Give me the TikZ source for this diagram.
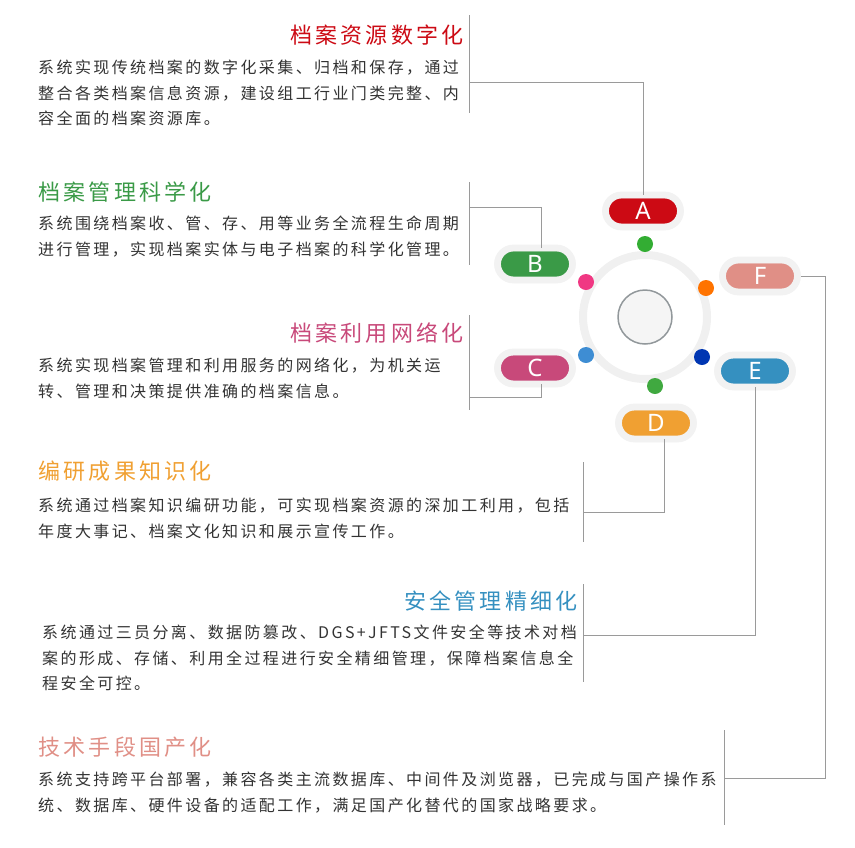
\documentclass[tikz,border=0pt]{standalone}
\usepackage{fontspec}
\usepackage{tikz}
\usetikzlibrary{positioning}
\newfontfamily\cjk[LetterSpace=15]{Noto Sans CJK SC}
\newfontfamily\pillfont{Noto Sans}
\definecolor{cA}{HTML}{CC0A14}
\definecolor{cB}{HTML}{3A9A47}
\definecolor{cC}{HTML}{C8497A}
\definecolor{cD}{HTML}{F0A032}
\definecolor{cE}{HTML}{3590C0}
\definecolor{cF}{HTML}{E08F86}
\definecolor{bodygray}{HTML}{333333}
\definecolor{linegray}{HTML}{9A9A9A}
\tikzset{
  pill/.style={rounded corners=16pt, minimum width=75pt, minimum height=32pt, inner sep=0pt,
    fill=#1, text=white, font=\pillfont\fontsize{24}{24}\selectfont,
    double=black!5, double distance=6pt, draw=black!5},
  dot/.style={circle, fill=#1, minimum size=16pt, inner sep=0pt},
  title/.style={font=\cjk\fontsize{22}{22}\selectfont, text=#1, inner sep=0pt},
  body/.style={font=\cjk\fontsize{16}{25.5}\selectfont, text=bodygray, align=left, inner sep=0pt, anchor=north west},
  bar/.style={draw=linegray, line width=1pt},
  link/.style={draw=linegray, line width=1pt}
}
\begin{document}
\begin{tikzpicture}[x=1pt,y=-1pt]
  \useasboundingbox (0,0) rectangle (855,847);
  % hub
  \draw[black!6, line width=8pt] (645,317) circle (62);
  \node[circle, fill=black!4, draw=gray!70!cyan!40!black!60, line width=1.5pt, minimum size=54pt] (hub) at (645,317) {};
  \node[dot=cA!0!green!60!black!80] (dA) at (645,244) {};
  \node[dot=cB!0!magenta!70!red!80] (dB) at (586,282) {};
  \node[dot=cyan!60!blue!80] (dC) at (586,355) {};
  \node[dot=green!55!black!75] (dD) at (655,386) {};
  \node[dot=blue!70!cyan!70!black] (dE) at (702,357) {};
  \node[dot=orange!90!red] (dF) at (706,288) {};
  \node[pill=cA] (A) at (643,211) {A};
  \node[pill=cB] (B) at (535,264) {B};
  \node[pill=cC] (C) at (535,368) {C};
  \node[pill=cD] (D) at (656,423) {D};
  \node[pill=cE] (E) at (755,371) {E};
  \node[pill=cF] (F) at (760,276) {F};

  % A
  \node[title=cA, anchor=east] (tA) at (464,35) {档案资源数字化};
  \node[body] (bA) at (38,60) {系统实现传统档案的数字化采集、归档和保存，通过\\整合各类档案信息资源，建设组工行业门类完整、内\\容全面的档案资源库。};
  \draw[bar] (469,15) -- (469,113);
  \coordinate (jA) at (469,82);
  \draw[link] (jA) -| (A.north);
  % B
  \node[title=cB, anchor=west] (tB) at (38,192) {档案管理科学化};
  \node[body] (bB) at (38,216) {系统围绕档案收、管、存、用等业务全流程生命周期\\进行管理，实现档案实体与电子档案的科学化管理。};
  \draw[bar] (469,182) -- (469,265);
  \coordinate (jB) at (469,207);
  \draw[link] (jB) -| ([xshift=6pt]B.north);
  % C
  \node[title=cC, anchor=east] (tC) at (464,333) {档案利用网络化};
  \node[body] (bC) at (38,358) {系统实现档案管理和利用服务的网络化，为机关运\\转、管理和决策提供准确的档案信息。};
  \draw[bar] (469,315) -- (469,410);
  \coordinate (jC) at (469,397);
  \draw[link] (jC) -| ([xshift=6pt]C.south);
  % D
  \node[title=cD, anchor=west] (tD) at (38,471) {编研成果知识化};
  \node[body] (bD) at (38,498) {系统通过档案知识编研功能，可实现档案资源的深加工利用，包括\\年度大事记、档案文化知识和展示宣传工作。};
  \draw[bar] (583,462) -- (583,542);
  \coordinate (jD) at (583,512);
  \draw[link] (jD) -| ([xshift=8pt]D.south);
  % E
  \node[title=cE, anchor=east] (tE) at (578,601) {安全管理精细化};
  \node[body] (bE) at (42,625) {系统通过三员分离、数据防篡改、DGS+JFTS文件安全等技术对档\\案的形成、存储、利用全过程进行安全精细管理，保障档案信息全\\程安全可控。};
  \draw[bar] (583,584) -- (583,682);
  \coordinate (jE) at (583,635);
  \draw[link] (jE) -| (E.south);
  % F
  \node[title=cF, anchor=west] (tF) at (38,747) {技术手段国产化};
  \node[body] (bF) at (38,772) {系统支持跨平台部署，兼容各类主流数据库、中间件及浏览器，已完成与国产操作系\\统、数据库、硬件设备的适配工作，满足国产化替代的国家战略要求。};
  \draw[bar] (724,730) -- (724,825);
  \coordinate (jF) at (724,778);
  \coordinate (kF) at (825,778);
  \draw[link] (jF) -- (kF) |- ([xshift=3pt]F.east);
\end{tikzpicture}
\end{document}
